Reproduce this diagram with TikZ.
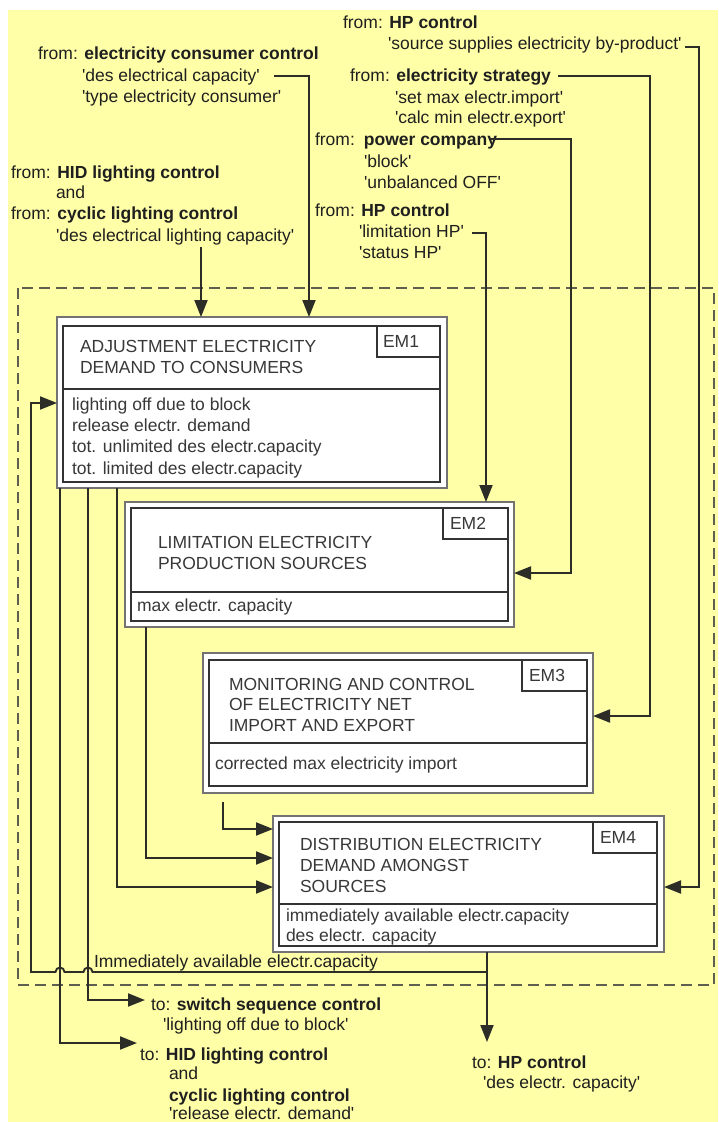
\documentclass[tikz,border=0pt]{standalone}
\usepackage{fontspec}
\setmainfont{Liberation Sans}
\usetikzlibrary{arrows.meta}
\definecolor{bgy}{RGB}{255,255,168}
\definecolor{lnc}{RGB}{45,45,40}
\definecolor{dashc}{RGB}{95,95,80}
\newcommand\qt{\textquotesingle}
\begin{document}
\begin{tikzpicture}[x=1pt,y=-1pt,
  txt/.style={anchor=base west, inner sep=0pt, outer sep=0pt, font=\fontsize{17.5}{21}\selectfont, text=black!88},
  boxtxt/.style={txt, text=black!78},
  outerbox/.style={draw=black!55, line width=1.4pt, fill=white, anchor=north west, inner sep=0pt, outer sep=0pt},
  innerbox/.style={draw=black!80, line width=2pt, anchor=north west, inner sep=0pt, outer sep=0pt},
  sepline/.style={draw=black!80, line width=2pt},
  conn/.style={draw=lnc, line width=1.9pt},
  arr/.style={conn, -{Triangle[length=17pt,width=13pt]}},
  frame/.style={draw=dashc, line width=2.4pt, dash pattern=on 11pt off 6pt},
]
\useasboundingbox (0,0) rectangle (718,1122);
\fill[bgy] (8,10) rectangle (718,1122);
\draw[frame] (18,288) rectangle (714,985);

% ---------- EM1
\node[outerbox, minimum width=390pt, minimum height=171pt] (em1) at (57,317) {};
\node[innerbox, minimum width=377pt, minimum height=156pt] (em1i) at (63,326) {};
\node[innerbox, minimum width=63pt, minimum height=31pt] (em1l) at (377,326) {};
\draw[sepline] (63,389) -- (440,389);
\node[boxtxt] (em1n) at (383,347) {EM1};
\node[boxtxt] (em1a) at (80,352) {ADJUSTMENT ELECTRICITY};
\node[boxtxt] (em1b) at (80,373) {DEMAND TO CONSUMERS};
\node[boxtxt] (em1c) at (72,410) {lighting off due to block};
\node[boxtxt] (em1d) at (72,431) {release electr. demand};
\node[boxtxt] (em1e) at (72,452) {tot. unlimited des electr.capacity};
\node[boxtxt] (em1f) at (72,474) {tot. limited des electr.capacity};

% ---------- EM2
\node[outerbox, minimum width=389pt, minimum height=125pt] (em2) at (125,502) {};
\node[innerbox, minimum width=377pt, minimum height=113pt] (em2i) at (131,508) {};
\node[innerbox, minimum width=65pt, minimum height=31pt] (em2l) at (443,508) {};
\draw[sepline] (131,592) -- (508,592);
\node[boxtxt] (em2n) at (450,529) {EM2};
\node[boxtxt] (em2a) at (158,548) {LIMITATION ELECTRICITY};
\node[boxtxt] (em2b) at (158,569) {PRODUCTION SOURCES};
\node[boxtxt] (em2c) at (137,611) {max electr. capacity};

% ---------- EM3
\node[outerbox, minimum width=390pt, minimum height=140pt] (em3) at (203,653) {};
\node[innerbox, minimum width=378pt, minimum height=126pt] (em3i) at (209,660) {};
\node[innerbox, minimum width=65pt, minimum height=31pt] (em3l) at (522,660) {};
\draw[sepline] (209,743) -- (587,743);
\node[boxtxt] (em3n) at (529,681) {EM3};
\node[boxtxt] (em3a) at (229,690) {MONITORING AND CONTROL};
\node[boxtxt] (em3b) at (229,710) {OF ELECTRICITY NET};
\node[boxtxt] (em3c) at (229,731) {IMPORT AND EXPORT};
\node[boxtxt] (em3d) at (215,769) {corrected max electricity import};

% ---------- EM4
\node[outerbox, minimum width=391pt, minimum height=136pt] (em4) at (273,816) {};
\node[innerbox, minimum width=378pt, minimum height=124pt] (em4i) at (279,822) {};
\node[innerbox, minimum width=64pt, minimum height=31pt] (em4l) at (593,822) {};
\draw[sepline] (279,904) -- (657,904);
\node[boxtxt] (em4n) at (600,843) {EM4};
\node[boxtxt] (em4a) at (300,850) {DISTRIBUTION ELECTRICITY};
\node[boxtxt] (em4b) at (300,871) {DEMAND AMONGST};
\node[boxtxt] (em4c) at (300,892) {SOURCES};
\node[boxtxt] (em4d) at (286,921) {immediately available electr.capacity};
\node[boxtxt] (em4e) at (286,941) {des electr. capacity};

% ---------- top texts
\node[txt] (t1) at (343,28) {from: \textbf{HP control}};
\node[txt] (t2) at (388,49) {\qt source supplies electricity by-product\qt};
\node[txt] (t3) at (38,59) {from: \textbf{electricity consumer control}};
\node[txt] (t4) at (82,81) {\qt des electrical capacity\qt};
\node[txt] (t5) at (82,102) {\qt type electricity consumer\qt};
\node[txt] (t6) at (350,81) {from: \textbf{electricity strategy}};
\node[txt] (t7) at (395,103) {\qt set max electr.import\qt};
\node[txt] (t8) at (395,123) {\qt calc min electr.export\qt};
\node[txt] (t9) at (315,145) {from:\hspace{9pt}\textbf{power company}};
\node[txt] (t10) at (364,167) {\qt block\qt};
\node[txt] (t11) at (364,188) {\qt unbalanced OFF\qt};
\node[txt] (t12) at (315,216) {from: \textbf{HP control}};
\node[txt] (t13) at (359,237) {\qt limitation HP\qt};
\node[txt] (t14) at (359,258) {\qt status HP\qt};
\node[txt] (t15) at (11,178) {from: \textbf{HID lighting control}};
\node[txt] (t16) at (56,198) {and};
\node[txt] (t17) at (11,219) {from: \textbf{cyclic lighting control}};
\node[txt] (t18) at (56,241) {\qt des electrical lighting capacity\qt};

% ---------- bottom texts
\node[txt] (b1) at (151,1010) {to: \textbf{switch sequence control}};
\node[txt] (b2) at (163,1030) {\qt lighting off due to block\qt};
\node[txt] (b3) at (140,1060) {to: \textbf{HID lighting control}};
\node[txt] (b4) at (169,1079) {and};
\node[txt] (b5) at (169,1101) {\textbf{cyclic lighting control}};
\node[txt] (b6) at (169,1119) {\qt release electr. demand\qt};
\node[txt] (b7) at (472,1068) {to: \textbf{HP control}};
\node[txt] (b8) at (483,1088) {\qt des electr. capacity\qt};
\node[txt] (lab) at (94,967) {Immediately available electr.capacity};

% ---------- helper coordinates
\coordinate (a1s) at (685,47);  \coordinate (a1k) at (699,47);  \coordinate (y887) at (0,887);
\coordinate (a2s) at (274,76);  \coordinate (a2k) at (309,76);
\coordinate (a3s) at (558,76);  \coordinate (a3k) at (650,76);  \coordinate (y716) at (0,716);
\coordinate (a4s) at (490,139); \coordinate (a4k) at (571,139); \coordinate (y573) at (0,573);
\coordinate (a5s) at (472,233); \coordinate (a5k) at (486,233);
\coordinate (a6s) at (201,247);
\coordinate (x60) at (60,0);    \coordinate (a7e) at (137,1043);
\coordinate (x88) at (88,0);    \coordinate (a8e) at (145,1000);
\coordinate (x117) at (117,0);
\coordinate (x146) at (146,0);  \coordinate (y858) at (0,858);
\coordinate (a11s) at (223,802); \coordinate (y829) at (0,829);
\coordinate (x487) at (487,0);  \coordinate (a12e) at (487,1042);
\coordinate (fb) at (487,972);  \coordinate (fbc) at (31,972); \coordinate (y403) at (0,403);

% ---------- connectors
\draw[arr] (a1s) -- (a1k) -- (a1k |- y887) -- (em4.east |- y887);
\draw[arr] (a2s) -- (a2k) -- (a2k |- em1.north);
\draw[arr] (a3s) -- (a3k) -- (a3k |- y716) -- (em3.east |- y716);
\draw[arr] (a4s) -- (a4k) -- (a4k |- y573) -- (em2.east |- y573);
\draw[arr] (a5s) -- (a5k) -- (a5k |- em2.north);
\draw[arr] (a6s) -- (a6s |- em1.north);
\draw[arr] (x60 |- em1.south) -- (x60 |- a7e) -- (a7e);
\draw[arr] (x88 |- em1.south) -- (x88 |- a8e) -- (a8e);
\draw[arr] (x117 |- em1.south) -- (x117 |- y887) -- (em4.west |- y887);
\draw[arr] (x146 |- em2.south) -- (x146 |- y858) -- (em4.west |- y858);
\draw[arr] (a11s) -- (a11s |- y829) -- (em4.west |- y829);
\draw[arr] (x487 |- em4.south) -- (a12e);
\draw[arr] (fb) -- (92.5,972) arc[start angle=0, end angle=180, radius=4.5pt]
  -- (64.5,972) arc[start angle=0, end angle=180, radius=4.5pt]
  -- (fbc) -- (fbc |- y403) -- (em1.west |- y403);
\end{tikzpicture}
\end{document}
